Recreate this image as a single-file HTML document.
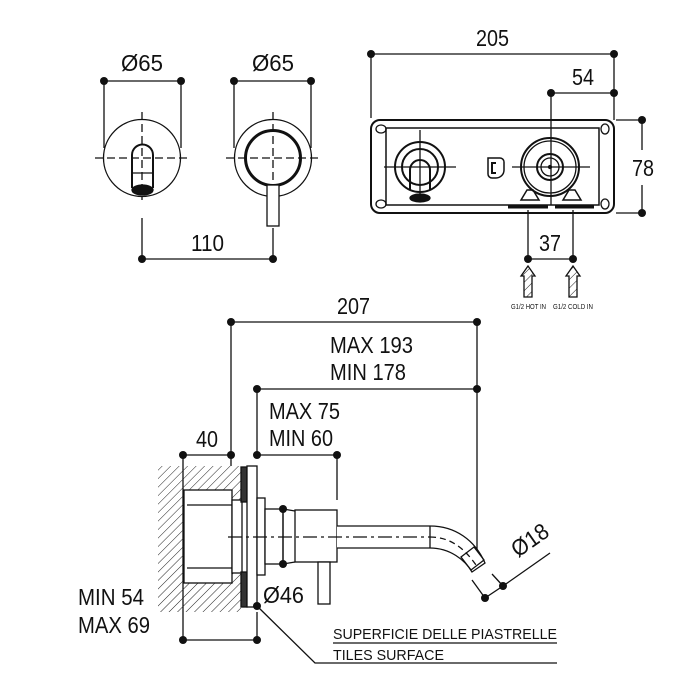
<!DOCTYPE html>
<html><head><meta charset="utf-8"><style>
html,body{margin:0;padding:0;background:#fff;}
svg{display:block;}
text{font-family:"Liberation Sans Narrow","Liberation Sans",sans-serif;fill:#111;}
</style></head><body>
<svg width="700" height="700" viewBox="0 0 700 700" xmlns="http://www.w3.org/2000/svg">
<defs>
<pattern id="h" width="6" height="6" patternUnits="userSpaceOnUse" patternTransform="rotate(45)">
<line x1="0" y1="0" x2="0" y2="6" stroke="#222" stroke-width="1"/></pattern>
</defs>
<g stroke="#111" fill="none" stroke-width="1.3">
<line x1="104" y1="81" x2="181" y2="81"/>
<line x1="104" y1="81" x2="104" y2="148"/><line x1="181" y1="81" x2="181" y2="148"/>
<circle cx="142" cy="158" r="38.5"/>
<line x1="95" y1="158" x2="190" y2="158" stroke-dasharray="8,4"/>
<line x1="142" y1="112" x2="142" y2="200" stroke-dasharray="8,4"/>
<path d="M132 188 V155 A10.5 10.5 0 0 1 153 155 V188" stroke-width="2"/>
<line x1="132" y1="173" x2="153" y2="173"/>
<ellipse cx="142.5" cy="190" rx="10.5" ry="5" fill="#111"/>
<line x1="142" y1="218" x2="142" y2="259"/>
<line x1="234" y1="81" x2="311" y2="81"/>
<line x1="234" y1="81" x2="234" y2="148"/><line x1="311" y1="81" x2="311" y2="148"/>
<circle cx="273" cy="158" r="38.5"/>
<circle cx="273" cy="158" r="27.5" stroke-width="3"/>
<line x1="226" y1="158" x2="320" y2="158" stroke-dasharray="8,4"/>
<line x1="273" y1="112" x2="273" y2="186" stroke-dasharray="8,4"/>
<rect x="267" y="185" width="12" height="41" fill="#fff"/>
<line x1="273" y1="228" x2="273" y2="259"/>
<line x1="142" y1="259" x2="273" y2="259"/>
<line x1="371" y1="54" x2="614" y2="54"/>
<line x1="371" y1="54" x2="371" y2="118"/><line x1="614" y1="54" x2="614" y2="120"/>
<line x1="551" y1="93" x2="614" y2="93"/>
<line x1="551" y1="93" x2="551" y2="205"/>
<rect x="371" y="120" width="243" height="93" rx="9" stroke-width="2"/>
<rect x="386" y="128" width="213" height="77" stroke-width="1.5"/>
<ellipse cx="381" cy="129" rx="5" ry="4"/><ellipse cx="381" cy="204" rx="5" ry="4"/>
<ellipse cx="605" cy="129" rx="4" ry="5"/><ellipse cx="605" cy="204" rx="4" ry="5"/>
<line x1="616" y1="120" x2="642" y2="120"/><line x1="616" y1="213" x2="642" y2="213"/>
<line x1="642" y1="120" x2="642" y2="150"/><line x1="642" y1="185" x2="642" y2="213"/>
<circle cx="420" cy="167" r="25" stroke-width="2"/>
<circle cx="420" cy="167" r="18" stroke-width="2"/>
<path d="M410 190 V170 A10 10 0 0 1 430 170 V190" stroke-width="2"/>
<ellipse cx="420" cy="198" rx="10" ry="4" fill="#111"/>
<line x1="384" y1="167" x2="456" y2="167"/><line x1="420" y1="130" x2="420" y2="200"/>
<path d="M488 158 h12 a4 4 0 0 1 4 4 v8 a8 8 0 0 1 -8 8 h-4 a4 4 0 0 1 -4 -4 z" stroke-width="1.5"/>
<path d="M496 163 h-4 v10 h4" stroke-width="2"/>
<circle cx="550" cy="167" r="29" stroke-width="2"/>
<circle cx="550" cy="167" r="26"/>
<circle cx="550" cy="167" r="13" stroke-width="2"/>
<circle cx="550" cy="167" r="9"/>
<circle cx="550" cy="167" r="1.5" fill="#111"/>
<line x1="512" y1="167" x2="590" y2="167"/>
<path d="M521 200 l6 -10 h6 l6 10 z" stroke-width="1.5"/>
<path d="M563 200 l6 -10 h6 l6 10 z" stroke-width="1.5"/>
<line x1="508" y1="207" x2="548" y2="207" stroke-width="3"/>
<line x1="555" y1="207" x2="594" y2="207" stroke-width="3"/>
<line x1="528" y1="210" x2="528" y2="259"/><line x1="573" y1="210" x2="573" y2="259"/>
<line x1="528" y1="259" x2="573" y2="259"/>
<path d="M521 276 l7 -10 l7 10 h-3 v21 h-8 v-21 z" fill="url(#h)"/>
<path d="M566 276 l7 -10 l7 10 h-3 v21 h-8 v-21 z" fill="url(#h)"/>
<line x1="231" y1="322" x2="477" y2="322"/>
<line x1="231" y1="322" x2="231" y2="466"/>
<line x1="477" y1="322" x2="477" y2="553"/>
<line x1="257" y1="389" x2="477" y2="389"/>
<line x1="257" y1="389" x2="257" y2="455"/>
<line x1="183" y1="455" x2="231" y2="455"/>
<line x1="257" y1="455" x2="337" y2="455"/>
<line x1="183" y1="455" x2="183" y2="640"/>
<line x1="337" y1="455" x2="337" y2="500"/>
<line x1="183" y1="640" x2="257" y2="640"/>
<line x1="257" y1="612" x2="257" y2="640"/>
<path d="M158 466 H241 V612 H158 Z" fill="url(#h)" stroke="none"/>
<rect x="184" y="490" width="48" height="93" fill="#fff"/>
<line x1="187" y1="505" x2="232" y2="505"/><line x1="187" y1="568" x2="232" y2="568"/>
<rect x="232" y="500" width="10" height="73" fill="#fff"/>
<rect x="241" y="467" width="6" height="35" fill="#333"/>
<rect x="241" y="572" width="6" height="35" fill="#333"/>
<rect x="247" y="466" width="10" height="141" fill="#fff"/>
<rect x="257" y="498" width="8" height="77" fill="#fff"/>
<rect x="265" y="509" width="18" height="55" fill="#fff"/>
<line x1="283" y1="509" x2="283" y2="564"/>
<path d="M283 509 l12 2 M283 564 l12 -2"/>
<rect x="295" y="510" width="42" height="52" fill="#fff"/>
<rect x="318" y="562" width="12" height="42" fill="#fff"/>
<path d="M337 526 H430 C455 526 475 540 485 563 L472 572 C465 560 450 548 430 548 H337" fill="#fff"/>
<line x1="430" y1="526" x2="430" y2="548"/>
<path d="M461 557 l13 -10 l10 13 l-13 10 z"/>
<line x1="228" y1="537" x2="430" y2="537" stroke-dasharray="14,4,3,4"/>
<path d="M430 537 C450 537 465 548 478 568" stroke-dasharray="6,4"/>
<line x1="472" y1="580" x2="485" y2="598"/>
<line x1="492" y1="574" x2="503" y2="586"/>
<line x1="485" y1="598" x2="503" y2="586"/>
<line x1="503" y1="586" x2="550" y2="553"/>
<polyline points="257,606 315,663 557,663"/>
<line x1="333" y1="643" x2="557" y2="643"/>
</g>
<g fill="#111">
<circle cx="104" cy="81" r="4"/><circle cx="181" cy="81" r="4"/>
<circle cx="234" cy="81" r="4"/><circle cx="311" cy="81" r="4"/>
<circle cx="142" cy="259" r="4"/><circle cx="273" cy="259" r="4"/>
<circle cx="371" cy="54" r="4"/><circle cx="614" cy="54" r="4"/>
<circle cx="551" cy="93" r="4"/><circle cx="614" cy="93" r="4"/>
<circle cx="642" cy="120" r="4"/><circle cx="642" cy="213" r="4"/>
<circle cx="528" cy="259" r="4"/><circle cx="573" cy="259" r="4"/>
<circle cx="231" cy="322" r="4"/><circle cx="477" cy="322" r="4"/>
<circle cx="257" cy="389" r="4"/><circle cx="477" cy="389" r="4"/>
<circle cx="183" cy="455" r="4"/><circle cx="231" cy="455" r="4"/>
<circle cx="257" cy="455" r="4"/><circle cx="337" cy="455" r="4"/>
<circle cx="283" cy="509" r="4"/><circle cx="283" cy="564" r="4"/>
<circle cx="183" cy="640" r="4"/><circle cx="257" cy="640" r="4"/>
<circle cx="257" cy="606" r="4"/>
<circle cx="485" cy="598" r="4"/><circle cx="503" cy="586" r="4"/>
</g>
<g font-size="23" lengthAdjust="spacingAndGlyphs">
<text x="121" y="71" textLength="42" lengthAdjust="spacingAndGlyphs">Ø65</text>
<text x="252" y="71" textLength="42" lengthAdjust="spacingAndGlyphs">Ø65</text>
<text x="191" y="251" textLength="33" lengthAdjust="spacingAndGlyphs">110</text>
<text x="476" y="46" textLength="33" lengthAdjust="spacingAndGlyphs">205</text>
<text x="572" y="85" textLength="22" lengthAdjust="spacingAndGlyphs">54</text>
<text x="632" y="176" textLength="22" lengthAdjust="spacingAndGlyphs">78</text>
<text x="539" y="251" textLength="22" lengthAdjust="spacingAndGlyphs">37</text>
<text x="337" y="314" textLength="33" lengthAdjust="spacingAndGlyphs">207</text>
<text x="330" y="353" textLength="83" lengthAdjust="spacingAndGlyphs">MAX 193</text>
<text x="330" y="380" textLength="76" lengthAdjust="spacingAndGlyphs">MIN 178</text>
<text x="269" y="419" textLength="71" lengthAdjust="spacingAndGlyphs">MAX 75</text>
<text x="269" y="446" textLength="64" lengthAdjust="spacingAndGlyphs">MIN 60</text>
<text x="196" y="447" textLength="22" lengthAdjust="spacingAndGlyphs">40</text>
<text x="263" y="603" textLength="41" lengthAdjust="spacingAndGlyphs">Ø46</text>
<text x="78" y="605" textLength="66" lengthAdjust="spacingAndGlyphs">MIN 54</text>
<text x="78" y="633" textLength="72" lengthAdjust="spacingAndGlyphs">MAX 69</text>
<text x="518" y="558" transform="rotate(-35 518 558)" textLength="40" lengthAdjust="spacingAndGlyphs">Ø18</text>
</g>
<g font-size="15">
<text x="333" y="639" textLength="224" lengthAdjust="spacingAndGlyphs">SUPERFICIE DELLE PIASTRELLE</text>
<text x="333" y="660" textLength="111" lengthAdjust="spacingAndGlyphs">TILES SURFACE</text>
</g>
<g font-size="7">
<text x="511" y="309" textLength="35" lengthAdjust="spacingAndGlyphs">G1/2 HOT IN</text>
<text x="553" y="309" textLength="40" lengthAdjust="spacingAndGlyphs">G1/2 COLD IN</text>
</g>
</svg>
</body></html>
